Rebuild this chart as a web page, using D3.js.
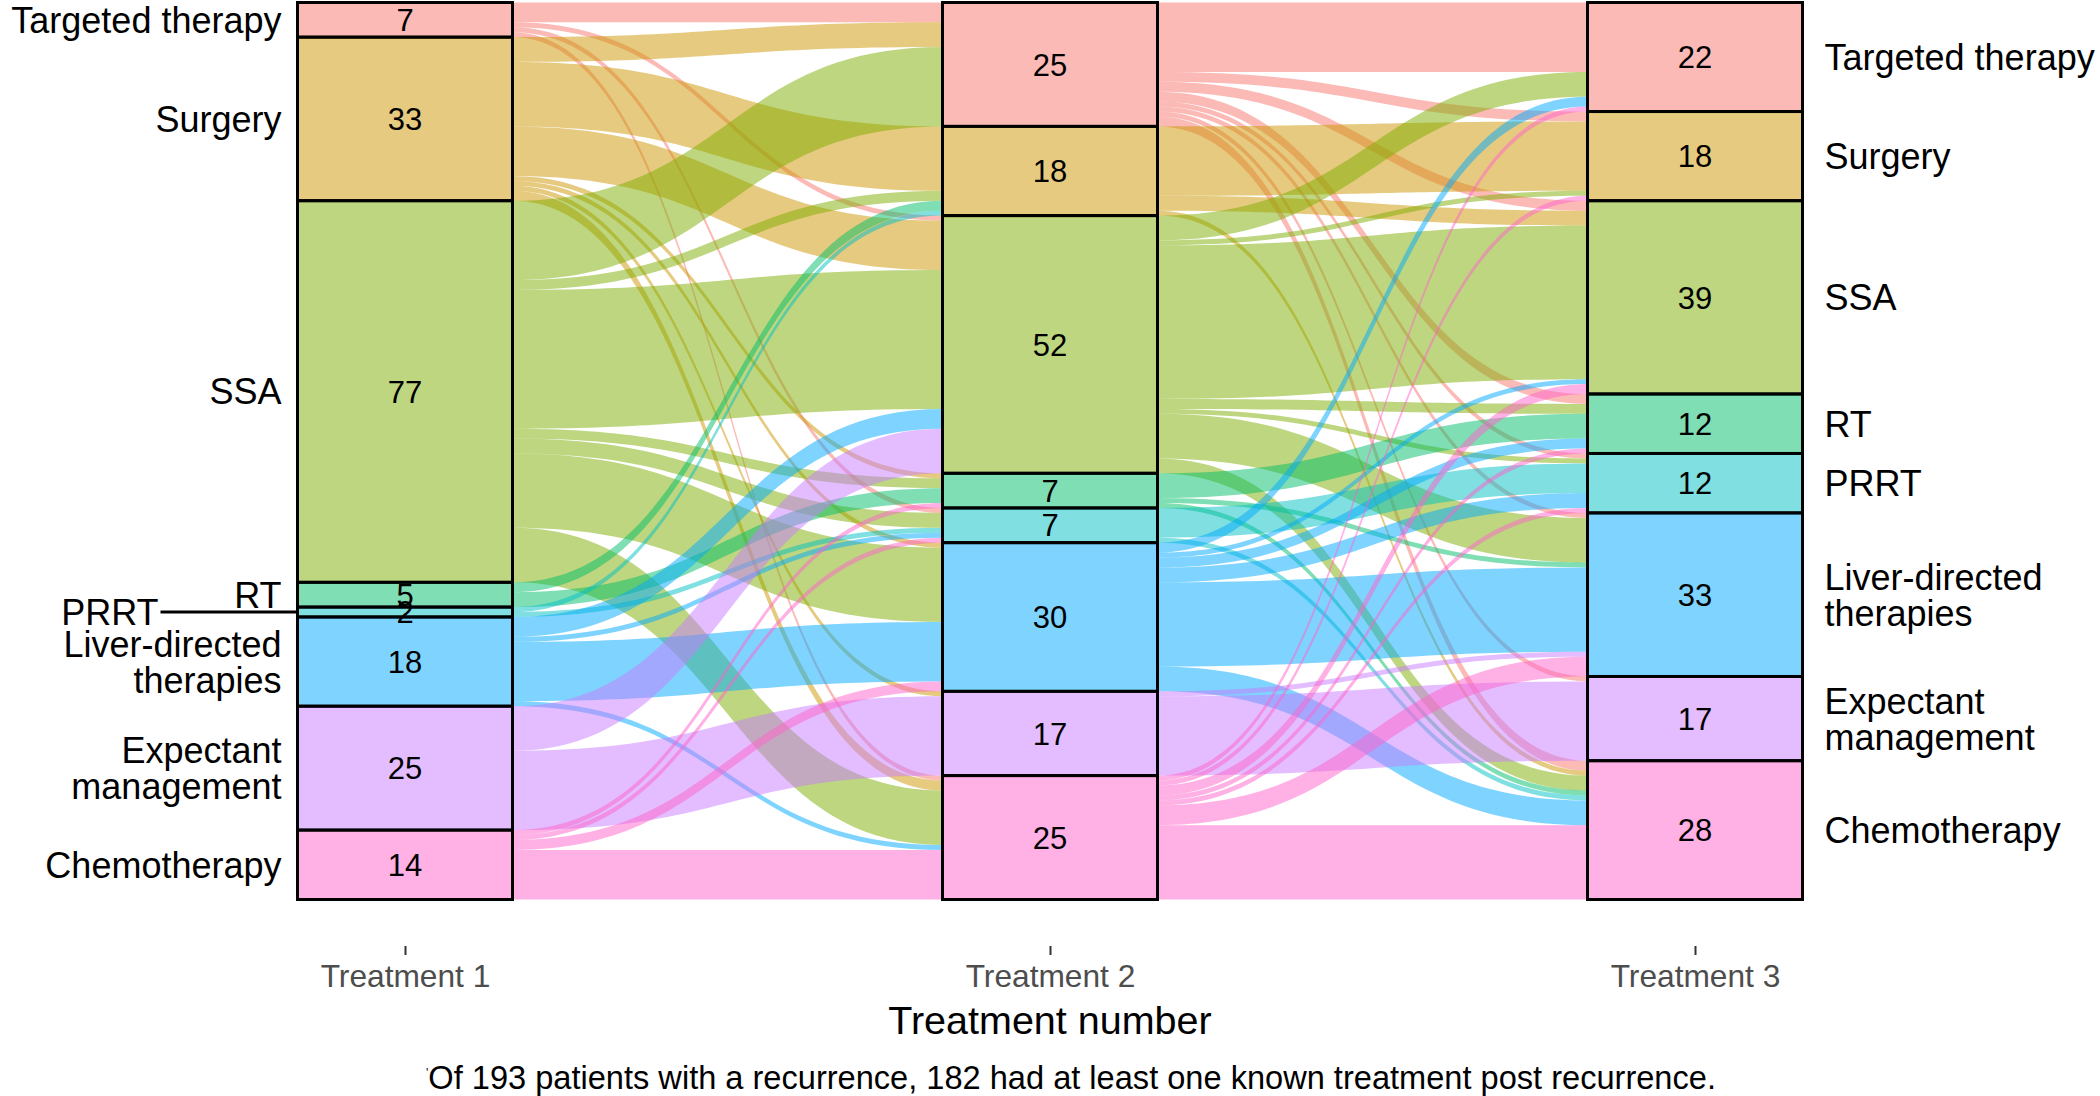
<!DOCTYPE html>
<html>
<head>
<meta charset="utf-8">
<script src="https://cdn.jsdelivr.net/npm/d3@7"></script>
<style>
  html, body { margin: 0; padding: 0; background: #ffffff; }
  svg { display: block; }
  text { font-family: "Liberation Sans", Arial, Helvetica, sans-serif; }
</style>
</head>
<body>
<svg id="chart" width="2100" height="1096"></svg>
<script>
// ---------------- DATA ----------------
const categories = ["Targeted therapy", "Surgery", "SSA", "RT", "PRRT",
                    "Liver-directed therapies", "Expectant management", "Chemotherapy"];
const categoryLabelLines = [["Targeted therapy"], ["Surgery"], ["SSA"], ["RT"], ["PRRT"],
                            ["Liver-directed", "therapies"], ["Expectant", "management"], ["Chemotherapy"]];
const axisLabels = ["Treatment 1", "Treatment 2", "Treatment 3"];

const countsT1 = [7, 33, 77, 5, 2, 18, 25, 14];
const countsT2 = [25, 18, 52, 7, 7, 30, 17, 25];
const countsT3 = [22, 18, 39, 12, 12, 33, 17, 28];

// flows Treatment 1 -> Treatment 2 (rows: T1 stratum, cols: T2 stratum)
const flowsT1T2 = [
  [ 4,  0,  1, 0, 1,  0,  0,  1],
  [ 5, 13, 10, 1, 0,  1,  1,  2],
  [16,  2, 28, 2, 3, 15,  0, 11],
  [ 0,  2,  0, 3, 0,  0,  0,  0],
  [ 0,  1,  0, 0, 1,  0,  0,  0],
  [ 0,  0,  4, 0, 1, 12,  0,  1],
  [ 0,  0,  9, 0, 0,  0, 16,  0],
  [ 0,  0,  0, 1, 1,  2,  0, 10]
];
// flows Treatment 2 -> Treatment 3 (rows: T2 stratum, cols: T3 stratum)
const flowsT2T3 = [
  [14,  2,  2, 2, 1,  1,  1,  2],
  [ 0, 14,  3, 0, 0,  0,  0,  1],
  [ 5,  1, 31, 2, 1,  9,  0,  3],
  [ 0,  0,  0, 5, 0,  1,  0,  1],
  [ 0,  0,  0, 0, 6,  0,  0,  1],
  [ 2,  0,  1, 2, 3, 17,  0,  5],
  [ 0,  0,  0, 0, 0,  1, 16,  0],
  [ 1,  1,  2, 1, 1,  4,  0, 15]
];

const xTitle = "Treatment number";
const captionText = "Of 193 patients with a recurrence, 182 had at least one known treatment post recurrence.";

const palette = ["#F8766D", "#CD9600", "#7CAE00", "#00BE67", "#00BFC4", "#00A9FF", "#C77CFF", "#FF61CC"];

// ---------------- LAYOUT ----------------
const svg = d3.select("#chart");
const counts = [countsT1, countsT2, countsT3];
const flows = [flowsT1T2, flowsT2T3];
const total = d3.sum(countsT1);

const x = d3.scaleLinear().domain([1, 3]).range([405, 1695]);
const y = d3.scaleLinear().domain([0, total]).range([2.5, 899.5]);
const stratumW = (x(2) - x(1)) / 3;
const color = d3.scaleOrdinal().domain(categories).range(palette);

// strata cumulative positions
const strata = counts.map((arr, a) => {
  let c = 0;
  return arr.map((v, i) => {
    const s = { axis: a, idx: i, cat: categories[i], n: v, y0: c, y1: c + v };
    c += v;
    return s;
  });
});

// flow geometry
const flowData = [];
flows.forEach((M, a) => {
  const outOff = strata[a].map(s => s.y0);
  const inOff = strata[a + 1].map(s => s.y0);
  const segs = [];
  for (let i = 0; i < M.length; i++) {
    for (let j = 0; j < M[i].length; j++) {
      const n = M[i][j];
      if (!n) continue;
      segs.push({ a, i, j, n, s0: outOff[i], s1: outOff[i] + n });
      outOff[i] += n;
    }
  }
  for (let j = 0; j < M.length; j++) {
    for (let i = 0; i < M.length; i++) {
      const seg = segs.find(d => d.i === i && d.j === j);
      if (!seg) continue;
      seg.t0 = inOff[j];
      seg.t1 = inOff[j] + seg.n;
      inOff[j] += seg.n;
    }
  }
  segs.forEach(d => flowData.push(d));
});

function flowPath(d) {
  const xa = x(d.a + 1) + stratumW / 2;
  const xb = x(d.a + 2) - stratumW / 2;
  const xm = (xa + xb) / 2;
  const ya0 = y(d.s0), ya1 = y(d.s1), yb0 = y(d.t0), yb1 = y(d.t1);
  return `M${xa},${ya0}C${xm},${ya0} ${xm},${yb0} ${xb},${yb0}` +
         `L${xb},${yb1}C${xm},${yb1} ${xm},${ya1} ${xa},${ya1}Z`;
}

// flows
svg.append("g").selectAll("path").data(flowData).join("path")
  .attr("d", flowPath)
  .attr("fill", d => color(categories[d.i]))
  .attr("fill-opacity", 0.5)
  .attr("stroke", "none");

// strata
const allStrata = strata.flat();
svg.append("g").selectAll("rect").data(allStrata).join("rect")
  .attr("x", d => x(d.axis + 1) - stratumW / 2)
  .attr("y", d => y(d.y0))
  .attr("width", stratumW)
  .attr("height", d => y(d.y1) - y(d.y0))
  .attr("fill", d => color(d.cat))
  .attr("fill-opacity", 0.5)
  .attr("stroke", "#000")
  .attr("stroke-width", 3);

// stratum counts
svg.append("g").selectAll("text").data(allStrata).join("text")
  .attr("x", d => x(d.axis + 1))
  .attr("y", d => y((d.y0 + d.y1) / 2))
  .attr("dy", "0.36em")
  .attr("text-anchor", "middle")
  .attr("font-size", 31)
  .attr("fill", "#000")
  .text(d => d.n);

// ---------------- LABELS (simple repel) ----------------
const labelFont = 36, lineH = 36, pad = 4;
function placeLabels(axisIdx) {
  const list = strata[axisIdx].map(s => ({
    s, lines: categoryLabelLines[s.idx],
    cy: y((s.y0 + s.y1) / 2)
  }));
  list.forEach(l => { l.h = l.lines.length * lineH / 2 + pad; });
  const placed = [];
  const order = list.slice().sort((p, q) => q.s.n - p.s.n);
  const maxShift = 14;
  order.forEach(l => {
    let yc = Math.max(l.h - 4, Math.min(900 - l.h + 20, l.cy));
    let ok = false;
    for (let k = 0; k <= maxShift * 2 && !ok; k++) {
      const off = (k % 2 ? 1 : -1) * Math.ceil(k / 2);
      const yt = yc + off;
      const clash = placed.some(p => p.lane === 1 && Math.abs(p.y - yt) < p.h + l.h);
      if (!clash) { yc = yt; ok = true; }
    }
    l.y = yc;
    l.lane = ok ? 1 : 2;
    placed.push(l);
  });
  return list;
}

function drawLabels(axisIdx, side) {
  const list = placeLabels(axisIdx);
  const edge = side === "left" ? x(axisIdx + 1) - stratumW / 2 : x(axisIdx + 1) + stratumW / 2;
  const anchorX = side === "left" ? edge - 16 : edge + 22;
  const lane2Shift = 123;
  const g = svg.append("g");
  list.forEach(l => {
    const lx = l.lane === 1 ? anchorX : (side === "left" ? anchorX - lane2Shift : anchorX + lane2Shift);
    const t = g.append("text")
      .attr("x", lx)
      .attr("y", l.y)
      .attr("text-anchor", side === "left" ? "end" : "start")
      .attr("font-size", labelFont)
      .attr("fill", "#000");
    const n = l.lines.length;
    l.lines.forEach((ln, k) => {
      t.append("tspan")
        .attr("x", lx)
        .attr("dy", k === 0 ? `${0.36 - (n - 1) * 0.5}em` : "1em")
        .text(ln);
    });
    if (l.lane === 2) {
      const bb = t.node().getBBox();
      const x0 = side === "left" ? bb.x + bb.width + 2 : bb.x - 2;
      g.append("line")
        .attr("x1", x0).attr("x2", edge)
        .attr("y1", l.y).attr("y2", l.y)
        .attr("stroke", "#000").attr("stroke-width", 3);
    }
  });
}
drawLabels(0, "left");
drawLabels(2, "right");

// ---------------- AXIS ----------------
const axisG = svg.append("g").attr("transform", "translate(0,946)");
const axis = d3.axisBottom(x).tickValues([1, 2, 3])
  .tickFormat(d => axisLabels[d - 1])
  .tickSize(9).tickPadding(9);
axisG.call(axis);
axisG.select(".domain").remove();
axisG.selectAll(".tick line").attr("stroke", "#333333").attr("stroke-width", 2);
axisG.selectAll(".tick text")
  .attr("font-size", 31.7)
  .attr("fill", "#4D4D4D")
  .attr("font-family", "'Liberation Sans', Arial, sans-serif");

svg.append("text")
  .attr("x", x(2))
  .attr("y", 1034)
  .attr("text-anchor", "middle")
  .attr("font-size", 39.5)
  .attr("fill", "#000")
  .text(xTitle);

const cap = svg.append("text")
  .attr("x", 1071)
  .attr("y", 1088)
  .attr("text-anchor", "middle")
  .attr("font-size", 32.6)
  .attr("fill", "#000");
cap.append("tspan").attr("font-size", 12).attr("dy", "-0.9em").text("'");
cap.append("tspan").attr("dy", "0.36em").text(captionText);
</script>
</body>
</html>
